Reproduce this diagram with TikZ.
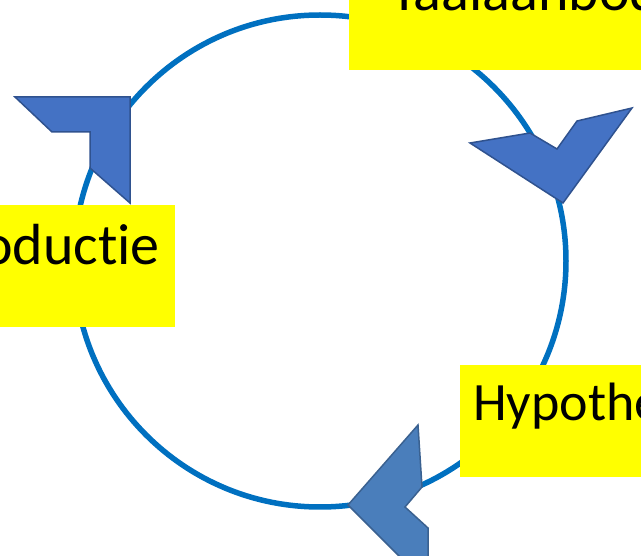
\documentclass[tikz,border=0pt]{standalone}
\usepackage{fontspec}
\setmainfont{Carlito}[Ligatures={NoCommon}]
\definecolor{ring}{HTML}{0070C0}
\definecolor{arrfill}{HTML}{4472C4}
\definecolor{arrline}{HTML}{2F528F}
\definecolor{arrfillb}{HTML}{4A7EBB}
\definecolor{arrlineb}{HTML}{3A6190}
\definecolor{lbl}{HTML}{FFFF00}
\begin{document}
\begin{tikzpicture}[x=1pt,y=-1pt,
  labelbox/.style={fill=lbl,draw=none},
  labeltext/.style={inner sep=0pt,font=\fontsize{58}{64}\selectfont,text=black},
  chevron/.style={fill=arrfill,draw=arrline,line width=1.5pt,line join=miter},
  chevronb/.style={fill=arrfillb,draw=arrlineb,line width=1.5pt,line join=miter}]
\useasboundingbox (0,0) rectangle (641,556);
\clip (0,0) rectangle (641,556);
% ring
\node[circle,draw=ring,line width=5.5pt,minimum size=492pt,inner sep=0pt] (ring) at (320,261) {};
% arrowheads
\filldraw[chevron] (15,97) -- (52,132) -- (90,132) -- (90,168) -- (130,203) -- (130,97) -- cycle;
\filldraw[chevron] (470,143) -- (530,133) -- (557,149) -- (577,121) -- (632,108) -- (563,203) -- cycle;
\filldraw[chevronb] (418,425) -- (422,487) -- (405,507) -- (428,528) -- (428,580) -- (423,580) -- (348,505) -- cycle;
% label boxes
\path[labelbox] (349,-52) rectangle (700,70);
\node[labeltext,anchor=base west] (top) at (390,11) {Taalaanbod};
\path[labelbox] (-60,205) rectangle (175,327);
\node[labeltext,anchor=base east] (left) at (160,265) {Productie};
\path[labelbox] (460,365) rectangle (700,477);
\node[labeltext,font=\fontsize{54}{60}\selectfont,anchor=base west] (right) at (473,421) {Hypothese};
\end{tikzpicture}
\end{document}
